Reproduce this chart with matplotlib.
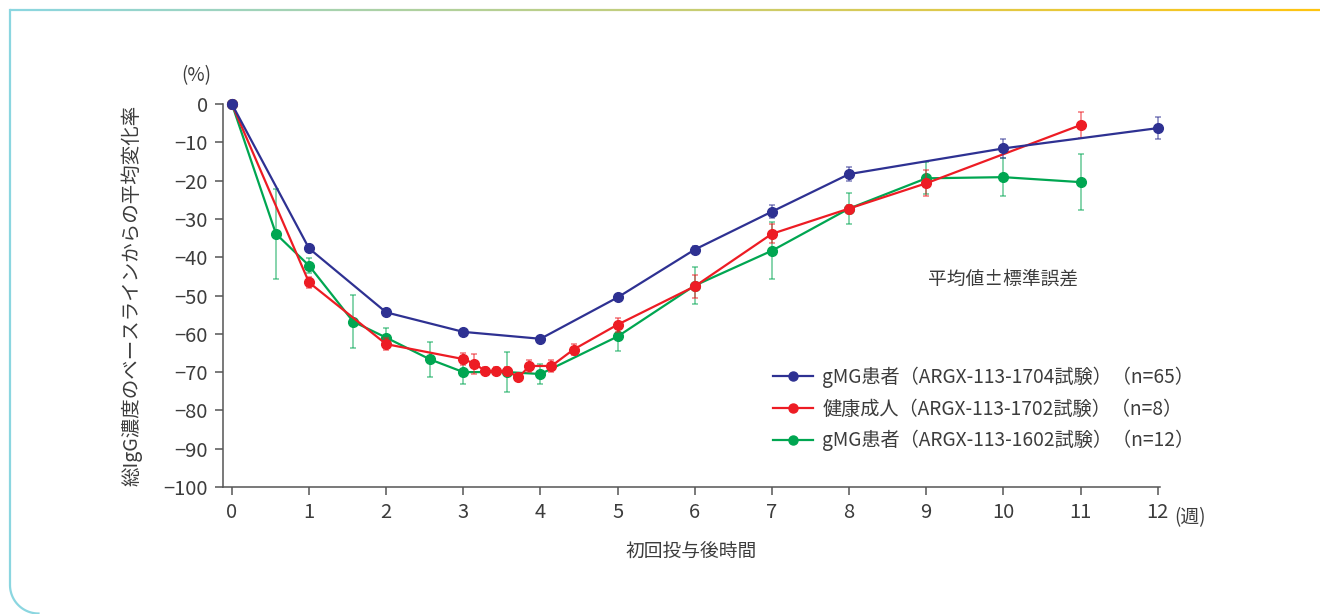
import numpy as np
import matplotlib
matplotlib.use('Agg')
import matplotlib.pyplot as plt
from matplotlib.collections import LineCollection
from matplotlib.colors import to_rgb
from matplotlib.lines import Line2D

plt.rcParams['font.family'] = ['Noto Sans CJK JP', 'DejaVu Sans']

# data (x in days after first dose, y in % change from baseline)
blue_days = [0, 7, 14, 21, 28, 35, 42, 49, 56, 70, 84]
blue_y = [0, -37.7, -54.4, -59.5, -61.3, -50.5, -38.0, -28.1, -18.3, -11.6, -6.3]
blue_err = [0, 0.8, 0.8, 0.8, 0.8, 0.8, 0.8, 1.6, 1.8, 2.4, 2.9]

red_days = [0, 7, 14, 21, 22, 23, 24, 25, 26, 27, 29, 31, 35, 42, 49, 56, 63, 77]
red_y = [0, -46.6, -62.7, -66.6, -67.8, -69.7, -69.7, -69.7, -71.4, -68.4, -68.4,
         -64.1, -57.6, -47.6, -33.9, -27.3, -20.7, -5.5]
red_err = [0, 1.5, 1.5, 1.5, 2.6, 1.0, 1.0, 1.0, 1.0, 1.5, 1.5, 1.5, 1.8, 3.0, 2.5,
           1.0, 3.4, 3.3]

green_days = [0, 4, 7, 11, 14, 18, 21, 25, 28, 35, 42, 49, 56, 63, 70, 77]
green_y = [0, -33.9, -42.2, -56.8, -61.0, -66.7, -70.0, -70.0, -70.5, -60.7, -47.4,
           -38.3, -27.3, -19.4, -19.1, -20.4]
green_err = [0, 11.7, 2.0, 7.0, 2.5, 4.5, 3.0, 5.3, 2.7, 3.7, 4.8, 7.5, 4.0, 4.2, 5.0, 7.3]

labels = ['gMG患者（ARGX-113-1704試験）（n=65）',
          '健康成人（ARGX-113-1702試験）（n=8）',
          'gMG患者（ARGX-113-1602試験）（n=12）']
x_ticks = list(range(0, 13))
y_ticks = list(range(0, -101, -10))

BLUE = '#2e3192'
RED = '#ed1c24'
GREEN = '#00a651'
TXT = '#3c3c3c'
W, H = 1320, 614

fig = plt.figure(figsize=(13.2, 6.14), dpi=100)
ax = fig.add_axes([223 / W, 1 - 487 / H, (1160 - 223) / W, (487 - 104) / H])


def plot_series(days, y, err, color, z):
    x = np.array(days) / 7.0
    ax.errorbar(x, y, yerr=err, color=color, lw=1.6, marker='o', ms=7,
                ecolor=color + '99', elinewidth=1.1, capsize=2.5, capthick=1.1,
                zorder=z, clip_on=False)


plot_series(green_days, green_y, green_err, GREEN, 3)
plot_series(red_days, red_y, red_err, RED, 4)
plot_series(blue_days, blue_y, blue_err, BLUE, 5)

ax.set_xlim(-0.115, 12.03)
ax.set_ylim(-100, 0)
ax.set_xticks(x_ticks)
ax.set_yticks(y_ticks)
ax.set_yticklabels([str(v).replace('-', '−') for v in y_ticks])
for s in ['top', 'right']:
    ax.spines[s].set_visible(False)
for s in ['left', 'bottom']:
    ax.spines[s].set_color('#555555')
    ax.spines[s].set_linewidth(1.1)
ax.tick_params(direction='out', length=6, width=1.1, color='#555555',
               labelsize=14.5, labelcolor=TXT, pad=5)

ax.set_xlabel('初回投与後時間', fontsize=13.5, color=TXT, labelpad=13)
ax.set_ylabel('総IgG濃度のベースラインからの平均変化率', fontsize=14, color=TXT,
              labelpad=15)
fig.text(196 / W, 1 - 76 / H, '(%)', fontsize=13.5, color=TXT, ha='center', va='center')
fig.text(1174 / W, 1 - 518 / H, '(週)', fontsize=13.5, color=TXT, ha='left', va='center')
fig.text(1003 / W, 1 - 279 / H, '平均値±標準誤差', fontsize=13.5, color=TXT,
         ha='center', va='center')

handles = [Line2D([], [], color=c, lw=1.6, marker='o', ms=6.5) for c in (BLUE, RED, GREEN)]
leg = ax.legend(handles, labels, loc='upper left', bbox_to_anchor=(763 / W, 1 - 357 / H),
                bbox_transform=fig.transFigure, frameon=False, fontsize=13.8,
                handlelength=2.1, handletextpad=0.5, labelspacing=0.55, borderpad=0)
for t in leg.get_texts():
    t.set_color(TXT)

# card border: gradient top line, cyan left line with rounded corner
n = 200
xs = np.linspace(10, W, n + 1)
segs = [[(xs[i] / W, 1 - 10 / H), (xs[i + 1] / W, 1 - 10 / H)] for i in range(n)]
c0, c1 = np.array(to_rgb('#8bd6e0')), np.array(to_rgb('#ffc40f'))
cols = [c0 + (c1 - c0) * (i / n) for i in range(n)]
fig.add_artist(LineCollection(segs, colors=cols, linewidths=1.6,
                              transform=fig.transFigure))
r = 28.5
th = np.linspace(np.pi, 1.5 * np.pi, 30)
px = np.concatenate([[10, 10], 10 + r + r * np.cos(th)])
py = np.concatenate([[10, 585], 585 - r * np.sin(th)])
fig.add_artist(Line2D(px / W, 1 - py / H, color='#8bd6e0', lw=1.6,
                      transform=fig.transFigure))

fig.savefig('out.png', dpi=100)
